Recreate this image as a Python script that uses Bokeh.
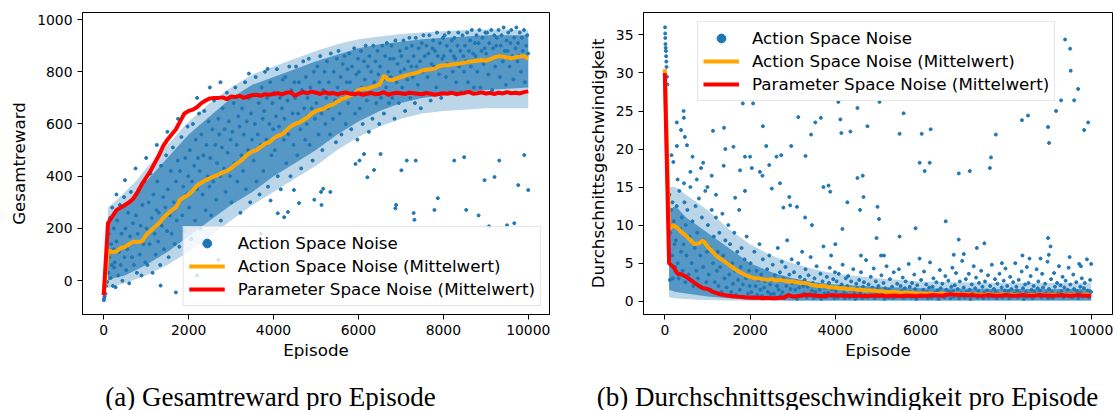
from bokeh.plotting import figure
from bokeh.layouts import column, row
from bokeh.models import Range1d, FixedTicker, Legend, LegendItem, Label, ColumnDataSource
from bokeh.embed import file_html
from bokeh.resources import INLINE

# ---------------- data ----------------
x_ticks = [0, 2000, 4000, 6000, 8000, 10000]
reward_ticks = [0, 200, 400, 600, 800, 1000]
speed_ticks = [0, 5, 10, 15, 20, 25, 30, 35]

mean_ep = [0, 100, 200, 300, 400, 500, 600, 700, 800, 900, 1000,
           1100, 1200, 1300, 1400, 1500, 1600, 1700, 1800, 1900, 2000,
           2100, 2200, 2300, 2400, 2500, 2600, 2700, 2800, 2900, 3000,
           3100, 3200, 3300, 3400, 3500, 3600, 3700, 3800, 3900, 4000,
           4100, 4200, 4300, 4400, 4500, 4600, 4700, 4800, 4900, 5000,
           5100, 5200, 5300, 5400, 5500, 5600, 5700, 5800, 5900, 6000,
           6100, 6200, 6300, 6400, 6500, 6600, 6700, 6800, 6900, 7000,
           7100, 7200, 7300, 7400, 7500, 7600, 7700, 7800, 7900, 8000,
           8100, 8200, 8300, 8400, 8500, 8600, 8700, 8800, 8900, 9000,
           9100, 9200, 9300, 9400, 9500, 9600, 9700, 9800, 9900, 10000]

reward_action_mean = [-55, 115, 110, 112, 125, 130, 140, 150, 148, 150, 175,
                      190, 205, 220, 240, 255, 270, 280, 310, 320, 330,
                      345, 365, 375, 385, 392, 400, 405, 415, 420, 430,
                      445, 455, 470, 485, 495, 500, 512, 525, 530, 545,
                      555, 560, 575, 590, 600, 605, 615, 625, 640, 650,
                      655, 660, 670, 675, 685, 695, 700, 710, 715, 730,
                      735, 735, 740, 745, 752, 785, 770, 768, 775, 780,
                      785, 790, 793, 798, 805, 808, 810, 812, 822, 825,
                      825, 828, 830, 832, 835, 838, 840, 842, 845, 842,
                      848, 855, 860, 858, 855, 852, 856, 858, 860, 850]

reward_param_mean = [-55, 220, 245, 270, 280, 290, 300, 315, 340, 370, 395,
                     420, 450, 480, 515, 540, 560, 580, 610, 640, 650,
                     655, 665, 680, 690, 698, 700, 700, 702, 695, 705,
                     703, 708, 700, 706, 710, 712, 708, 714, 712, 715,
                     718, 713, 720, 722, 708, 716, 722, 718, 724, 720,
                     715, 722, 716, 719, 713, 718, 721, 716, 714, 718,
                     712, 716, 719, 714, 716, 722, 712, 717, 720, 718,
                     715, 720, 718, 716, 714, 719, 716, 712, 715, 718,
                     716, 720, 714, 717, 719, 723, 716, 718, 721, 717,
                     719, 715, 720, 717, 722, 718, 720, 717, 722, 725]

speed_action_mean = [30.5, 9.5, 10.0, 9.6, 9.0, 8.6, 8.0, 7.5, 7.6, 8.0, 7.2,
                     6.6, 6.0, 5.6, 5.2, 4.8, 4.4, 4.0, 3.7, 3.4, 3.2,
                     3.0, 3.0, 2.9, 2.8, 2.9, 2.7, 2.8, 2.7, 2.6, 2.6,
                     2.5, 2.4, 2.4, 2.2, 2.1, 2.0, 2.0, 1.9, 1.8, 1.8,
                     1.7, 1.7, 1.6, 1.6, 1.5, 1.5, 1.4, 1.4, 1.4, 1.3,
                     1.3, 1.2, 1.2, 1.2, 1.1, 1.1, 1.1, 1.1, 1.0, 1.0,
                     1.0, 1.0, 0.95, 0.95, 1.0, 0.95, 0.9, 0.95, 0.9, 0.9,
                     0.9, 0.85, 0.9, 0.85, 0.85, 0.9, 0.85, 0.85, 0.9, 0.85,
                     0.85, 0.8, 0.85, 0.85, 0.8, 0.85, 0.8, 0.85, 0.8, 0.85,
                     0.85, 0.8, 0.85, 0.8, 0.85, 0.85, 0.8, 0.85, 0.85, 0.8]

speed_param_mean = [30.0, 5.0, 4.5, 3.6, 3.5, 3.2, 2.8, 2.4, 2.0, 1.7, 1.6,
                    1.3, 1.1, 0.9, 0.8, 0.7, 0.65, 0.6, 0.55, 0.5, 0.5,
                    0.45, 0.45, 0.4, 0.45, 0.4, 0.4, 0.45, 0.5, 0.8, 0.6,
                    0.65, 0.7, 0.85, 0.8, 0.75, 0.7, 0.65, 0.7, 0.8, 0.75,
                    0.75, 0.7, 0.7, 0.75, 0.7, 0.75, 0.65, 0.7, 0.75, 0.7,
                    0.75, 0.65, 0.7, 0.75, 0.65, 0.7, 0.75, 0.7, 0.65, 0.75,
                    0.7, 0.75, 0.8, 0.75, 0.7, 0.85, 0.9, 0.85, 0.8, 0.85,
                    0.75, 0.8, 0.75, 0.7, 0.75, 0.8, 0.75, 0.7, 0.75, 0.8,
                    0.75, 0.7, 0.75, 0.8, 0.75, 0.7, 0.75, 0.8, 0.75, 0.75,
                    0.7, 0.75, 0.8, 0.75, 0.7, 0.75, 0.8, 0.75, 0.7, 0.75]

# extent of the reward point cloud: outer (sparse fringe) and inner (dense core)
reward_cloud_ep = [100, 250, 500, 750, 1000, 1500, 2000, 2500, 3000, 3500, 4000, 4500,
                   5000, 5500, 6000, 6500, 7000, 7500, 8000, 8500, 9000, 9500, 10000]
reward_outer_low = [-30, -20, -10, 5, 20, 60, 110, 170, 230, 290, 340, 390,
                    440, 500, 550, 590, 620, 640, 650, 655, 660, 660, 660]
reward_outer_high = [280, 300, 340, 380, 430, 520, 610, 680, 740, 790, 820, 850,
                     880, 905, 925, 935, 945, 950, 955, 960, 962, 962, 960]
reward_inner_low = [0, 10, 20, 40, 60, 110, 170, 230, 290, 340, 400, 450,
                    500, 560, 610, 650, 680, 700, 710, 720, 730, 735, 740]
reward_inner_high = [240, 260, 290, 330, 380, 470, 560, 630, 700, 750, 780, 810,
                     840, 865, 890, 905, 915, 925, 930, 935, 940, 940, 940]

speed_cloud_ep = [100, 250, 500, 750, 1000, 1500, 2000, 2500, 3000, 3500, 4000,
                  5000, 6000, 8000, 10000]
speed_outer_low = [0.5, 0.4, 0.3, 0.2, 0.15, 0.1, 0.05, 0.05, 0.05, 0.05, 0.05,
                   0.05, 0.05, 0.05, 0.05]
speed_outer_high = [15, 15, 14, 13, 12, 9.5, 7.5, 6, 5, 4.2, 3.6,
                    3.0, 2.6, 2.4, 2.4]
speed_inner_low = [1.5, 1.2, 1.0, 0.8, 0.6, 0.4, 0.2, 0.15, 0.1, 0.1, 0.1,
                   0.1, 0.1, 0.1, 0.1]
speed_inner_high = [12, 12.5, 11, 10, 9, 7, 5, 3.8, 3, 2.5, 2.2,
                    1.9, 1.7, 1.6, 1.6]

# individual points (episode, value)
reward_points = [
    (3, -75), (10, -68), (20, -60), (40, -50), (60, -20), (80, -5), (110, 30), (120, 180), (130, 90),
    (150, 240), (160, 10), (175, 140), (190, 60), (200, 280), (215, -20), (230, 120), (240, 200), (245, 50),
    (260, 70), (280, -25), (300, 150), (320, 230), (340, 20), (360, 110), (380, 290), (400, 60), (420, 180),
    (440, 0), (460, 130), (480, 320), (490, 90),
    (510, 200), (530, 40), (555, 120), (575, 260), (600, -10), (620, 170), (640, 340), (665, 90), (690, 220), (710, 60), (730, 150),
    (760, 250), (780, 30), (800, 180), (825, 350), (850, 100), (870, 210), (890, 20), (910, 290), (935, 140), (960, 380), (980, 70),
    (1010, 200), (1030, 60), (1060, 300), (1080, 140), (1100, 410), (1130, 240), (1150, 30), (1170, 330), (1200, 180), (1225, 100), (1245, 270),
    (1260, 380), (1280, 150), (1300, 260), (1330, 60), (1350, 440), (1370, 210), (1400, 320), (1420, 120), (1450, 280), (1470, 480), (1490, 190),
    (1510, 350), (1530, 90), (1560, 250), (1580, 420), (1600, 180), (1630, 510), (1650, 300), (1670, 140), (1700, 380), (1720, 230), (1745, 460),
    (1760, 300), (1780, 130), (1800, 420), (1830, 550), (1850, 250), (1870, 360), (1900, 190), (1920, 470), (1950, 330), (1975, 590), (1990, 400),
    (2010, 280), (2030, 500), (2060, 160), (2080, 380), (2100, 600), (2130, 440), (2150, 230), (2170, 540), (2200, 350), (2220, 470), (2245, 640),
    (2260, 420), (2280, 200), (2300, 560), (2330, 330), (2350, 480), (2370, 650), (2400, 270), (2420, 520), (2450, 400), (2470, 610), (2490, 360),
    (2510, 470), (2530, 250), (2560, 580), (2580, 380), (2600, 690), (2630, 520), (2650, 310), (2670, 450), (2700, 620), (2720, 560), (2745, 400),
    (2760, 230), (2780, 510), (2800, 660), (2830, 430), (2850, 580), (2870, 340), (2900, 720), (2920, 490), (2950, 610), (2975, 400), (2990, 540),
    (3010, 300), (3030, 570), (3060, 680), (3080, 450), (3100, 740), (3130, 520), (3150, 380), (3170, 630), (3200, 590), (3220, 260), (3245, 480),
    (3260, 660), (3280, 420), (3300, 560), (3330, 760), (3350, 350), (3370, 610), (3400, 500), (3420, 700), (3450, 300), (3470, 640), (3490, 540),
    (3510, 710), (3530, 460), (3560, 600), (3580, 780), (3600, 380), (3630, 560), (3650, 680), (3670, 330), (3700, 520), (3720, 740), (3745, 620),
    (3760, 420), (3780, 650), (3800, 800), (3830, 540), (3850, 700), (3870, 360), (3900, 600), (3920, 760), (3950, 480), (3975, 680), (3990, 580),
    (4010, 720), (4030, 500), (4060, 630), (4080, 810), (4100, 400), (4130, 590), (4150, 700), (4170, 350), (4200, 660), (4220, 770), (4245, 540),
    (4260, 620), (4280, 780), (4300, 450), (4330, 690), (4350, 560), (4370, 820), (4400, 400), (4420, 730), (4450, 640), (4470, 520), (4490, 760),
    (4510, 700), (4530, 820), (4560, 480), (4580, 640), (4600, 760), (4630, 580), (4650, 430), (4670, 730), (4700, 840), (4720, 660), (4745, 540),
    (4760, 780), (4780, 600), (4800, 700), (4830, 850), (4850, 520), (4870, 740), (4900, 660), (4920, 460), (4950, 800), (4975, 620), (4990, 720),
    (5010, 680), (5030, 820), (5060, 560), (5080, 760), (5100, 860), (5130, 640), (5150, 500), (5170, 730), (5200, 800), (5220, 600), (5245, 700),
    (5260, 840), (5280, 660), (5300, 760), (5330, 560), (5350, 870), (5370, 720), (5400, 620), (5420, 800), (5450, 690), (5470, 530), (5490, 850),
    (5510, 740), (5530, 880), (5560, 640), (5580, 780), (5600, 560), (5630, 830), (5650, 700), (5670, 860), (5700, 600), (5720, 760), (5745, 810),
    (5760, 680), (5780, 870), (5800, 760), (5830, 580), (5850, 820), (5870, 720), (5900, 890), (5920, 640), (5950, 790), (5975, 540), (5990, 850),
    (6010, 800), (6030, 660), (6060, 880), (6080, 740), (6100, 600), (6130, 840), (6150, 770), (6170, 900), (6200, 690), (6220, 820), (6245, 570),
    (6260, 860), (6280, 720), (6300, 800), (6330, 620), (6350, 900), (6370, 760), (6400, 840), (6420, 680), (6450, 880), (6470, 790), (6490, 600),
    (6510, 820), (6530, 700), (6560, 900), (6580, 770), (6600, 640), (6630, 860), (6650, 740), (6670, 910), (6700, 800), (6720, 680), (6745, 850),
    (6760, 780), (6780, 900), (6800, 700), (6830, 850), (6850, 620), (6870, 920), (6900, 760), (6920, 830), (6950, 680), (6975, 880), (6990, 800),
    (7010, 860), (7030, 740), (7060, 920), (7080, 810), (7100, 650), (7130, 890), (7150, 770), (7170, 840), (7200, 930), (7220, 700), (7245, 820),
    (7260, 900), (7280, 780), (7300, 860), (7330, 680), (7350, 930), (7370, 820), (7400, 750), (7420, 890), (7450, 840), (7470, 660), (7490, 910),
    (7510, 800), (7530, 940), (7560, 860), (7580, 720), (7600, 900), (7630, 780), (7650, 870), (7670, 940), (7700, 690), (7720, 830), (7745, 890),
    (7760, 920), (7780, 820), (7800, 880), (7830, 740), (7850, 950), (7870, 860), (7900, 790), (7920, 910), (7950, 700), (7975, 850), (7990, 930),
    (8010, 860), (8030, 940), (8060, 780), (8080, 900), (8100, 830), (8130, 950), (8150, 720), (8170, 880), (8200, 920), (8220, 800), (8245, 860),
    (8260, 930), (8280, 850), (8300, 760), (8330, 900), (8350, 950), (8370, 820), (8400, 880), (8420, 720), (8450, 940), (8470, 860), (8490, 800),
    (8510, 900), (8530, 840), (8560, 950), (8580, 760), (8600, 880), (8630, 920), (8650, 820), (8670, 960), (8700, 870), (8720, 740), (8745, 910),
    (8760, 860), (8780, 940), (8800, 800), (8830, 910), (8850, 960), (8870, 740), (8900, 880), (8920, 930), (8950, 830), (8975, 890), (8990, 950),
    (9010, 870), (9030, 950), (9060, 790), (9080, 910), (9100, 850), (9130, 960), (9150, 730), (9170, 890), (9200, 940), (9220, 820), (9245, 900),
    (9260, 930), (9280, 860), (9300, 960), (9330, 780), (9350, 900), (9370, 940), (9400, 840), (9420, 970), (9450, 880), (9470, 750), (9490, 920),
    (9510, 880), (9530, 950), (9560, 820), (9580, 910), (9600, 960), (9630, 860), (9650, 770), (9670, 930), (9700, 890), (9720, 970), (9745, 840),
    (9760, 910), (9780, 860), (9800, 950), (9830, 800), (9850, 930), (9870, 880), (9900, 960), (9920, 760), (9950, 900), (9975, 940), (9995, 870),
]

reward_outliers = [
    (6887, 290), (6870, 277), (7319, 233), (7870, 316), (8538, 271), (8830, 250), (9075, 208), (8970, 385),
    (9205, 397), (9764, 366), (10000, 347), (9906, 481), (9316, 460), (8255, 460), (8490, 473), (7138, 460),
    (7350, 460), (7012, 423), (6368, 424), (6210, 396), (5338, 340), (5119, 340), (5170, 352), (4960, 310),
    (4600, 297), (4250, 243), (5130, 290), (6024, 460), (5930, 447), (6130, 485), (6520, 485), (7300, 259),
    (7790, 271), (9670, 220), (9500, 212), (4340, 263), (4100, 258), (4480, 347), (3930, 307),
    (1340, -19), (1700, -45), (2200, 20), (2700, 80), (3200, 130), (3700, 180),
    (3420, 793), (3860, 811), (2750, 760), (2500, 740), (2200, 700), (1750, 620), (1500, 570),
    (1250, 520), (1000, 470), (750, 430), (500, 385), (300, 330),
]

speed_points = [
    (5, 36), (8, 35.2), (12, 34.6), (15, 33.8), (20, 33.3), (25, 32.9), (30, 32.2), (35, 31.5), (40, 30.8),
    (50, 29.5), (60, 28.5), (110, 14), (130, 9), (150, 12), (170, 6), (190, 3), (210, 10.5), (230, 7.5),
    (245, 4.5), (120, 2.8), (180, 13),
    (260, 8), (280, 12.5), (300, 5), (320, 3), (340, 14.5), (360, 9.5), (380, 6.5), (400, 11), (420, 4), (440, 7.5), (460, 13), (480, 2.5), (490, 10),
    (510, 6), (530, 12), (560, 3.5), (580, 8.5), (600, 15), (630, 5), (650, 10.5), (670, 2), (700, 7), (720, 12.5), (740, 4),
    (760, 9), (780, 3), (800, 13.5), (830, 6), (850, 1.8), (870, 11), (900, 4.5), (920, 8), (950, 14.5), (975, 2.5), (990, 6.5),
    (1010, 10), (1030, 3.5), (1060, 7), (1080, 1.5), (1100, 12), (1130, 5), (1150, 8.5), (1170, 2.5), (1200, 11), (1225, 4), (1245, 6.5),
    (1260, 2), (1280, 9), (1300, 4.5), (1330, 1.2), (1350, 11.5), (1370, 6), (1400, 3), (1420, 8), (1450, 1.8), (1470, 5), (1490, 10),
    (1510, 3.5), (1530, 7.5), (1560, 1.2), (1580, 5), (1600, 2.3), (1630, 9), (1650, 4), (1670, 0.8), (1700, 6.5), (1720, 2.8), (1745, 12),
    (1760, 1.5), (1780, 4.5), (1800, 7), (1830, 2.2), (1850, 0.6), (1870, 5.5), (1900, 3), (1920, 8.5), (1950, 1), (1975, 4), (1990, 2),
    (2010, 5), (2030, 1.2), (2060, 3), (2080, 0.5), (2100, 6.5), (2130, 2), (2150, 4), (2170, 0.8), (2200, 2.8), (2220, 7.5), (2245, 1.5),
    (2260, 3.5), (2280, 0.7), (2300, 5.5), (2330, 1.8), (2350, 2.6), (2370, 0.4), (2400, 4.2), (2420, 1.2), (2450, 6), (2470, 2.2), (2490, 0.9),
    (2510, 2.8), (2530, 4.8), (2560, 1), (2580, 3.4), (2600, 0.5), (2630, 2), (2650, 7), (2670, 1.5), (2700, 3.8), (2720, 0.7), (2745, 5.2),
    (2760, 1.2), (2780, 3), (2800, 0.4), (2830, 4.5), (2850, 2), (2870, 8), (2900, 0.8), (2920, 3.5), (2950, 1.6), (2975, 5.5), (2990, 2.4),
    (3010, 0.6), (3030, 3.8), (3060, 1.5), (3080, 2.6), (3100, 0.3), (3130, 5), (3150, 1.8), (3170, 3.2), (3200, 0.8), (3220, 6.5), (3245, 2),
    (3260, 1), (3280, 2.8), (3300, 4.2), (3330, 0.5), (3350, 1.9), (3370, 3.4), (3400, 0.9), (3420, 5.8), (3450, 1.4), (3470, 2.4), (3490, 0.4),
    (3510, 3), (3530, 1.2), (3560, 4.6), (3580, 0.6), (3600, 2.1), (3630, 1.5), (3650, 3.6), (3670, 0.3), (3700, 2.6), (3720, 7.2), (3745, 1),
    (3760, 1.8), (3780, 0.5), (3800, 3.2), (3830, 1.1), (3850, 2.4), (3870, 4.4), (3900, 0.7), (3920, 1.6), (3950, 2.9), (3975, 0.4), (3990, 3.8),
    (4010, 1.3), (4030, 2.6), (4060, 0.5), (4080, 3.6), (4100, 1.9), (4130, 0.8), (4150, 2.2), (4170, 4.8), (4200, 1.1), (4220, 0.4), (4245, 3),
    (4260, 0.9), (4280, 2), (4300, 3.3), (4330, 0.5), (4350, 1.5), (4370, 2.6), (4400, 0.7), (4420, 4.2), (4450, 1.2), (4470, 0.3), (4490, 2.3),
    (4510, 1.7), (4530, 0.6), (4560, 2.8), (4580, 1.1), (4600, 3.8), (4630, 0.4), (4650, 1.9), (4670, 2.5), (4700, 0.8), (4720, 5.4), (4745, 1.4),
    (4760, 0.5), (4780, 2.2), (4800, 1.3), (4830, 3.2), (4850, 0.7), (4870, 1.8), (4900, 4.3), (4920, 0.4), (4950, 2.6), (4975, 1), (4990, 1.6),
    (5010, 2), (5030, 0.6), (5060, 1.4), (5080, 3.4), (5100, 0.9), (5130, 2.4), (5150, 0.3), (5170, 1.7), (5200, 4.6), (5220, 1.1), (5245, 0.5),
    (5260, 1.5), (5280, 2.9), (5300, 0.7), (5330, 1.9), (5350, 0.4), (5370, 3.8), (5400, 1.2), (5420, 0.6), (5450, 2.3), (5470, 1), (5490, 4.2),
    (5510, 0.8), (5530, 2), (5560, 1.3), (5580, 3.1), (5600, 0.4), (5630, 1.7), (5650, 2.6), (5670, 0.6), (5700, 1.1), (5720, 4.9), (5745, 1.9),
    (5760, 1.2), (5780, 0.5), (5800, 2.4), (5830, 0.9), (5850, 3.5), (5870, 1.6), (5900, 0.3), (5920, 2.1), (5950, 1), (5975, 5.6), (5990, 0.7),
    (6010, 2.8), (6030, 0.6), (6060, 1.5), (6080, 3.9), (6100, 0.9), (6130, 2.2), (6150, 1.2), (6170, 0.4), (6200, 1.8), (6220, 5.1), (6245, 1),
    (6260, 0.5), (6280, 1.9), (6300, 3), (6330, 1.1), (6350, 0.7), (6370, 2.5), (6400, 1.4), (6420, 0.3), (6450, 4.1), (6470, 1.7), (6490, 0.8),
    (6510, 2.3), (6530, 1), (6560, 0.5), (6580, 3.3), (6600, 1.5), (6630, 0.8), (6650, 2.7), (6670, 1.2), (6700, 0.4), (6720, 1.9), (6745, 4.4),
    (6760, 1.3), (6780, 0.6), (6800, 2.1), (6830, 3.7), (6850, 0.9), (6870, 1.6), (6900, 0.4), (6920, 2.6), (6950, 1.1), (6975, 5.3), (6990, 0.7),
    (7010, 1.8), (7030, 0.5), (7060, 2.9), (7080, 1.2), (7100, 0.8), (7130, 3.6), (7150, 1.5), (7170, 0.3), (7200, 2.2), (7220, 1), (7245, 4.6),
    (7260, 0.9), (7280, 1.7), (7300, 3.1), (7330, 0.5), (7350, 1.3), (7370, 2.4), (7400, 0.7), (7420, 4), (7450, 1.9), (7470, 0.4), (7490, 1.1),
    (7510, 2.6), (7530, 0.8), (7560, 1.4), (7580, 3.4), (7600, 0.5), (7630, 2), (7650, 1.1), (7670, 4.8), (7700, 0.6), (7720, 1.6), (7745, 2.9),
    (7760, 1.2), (7780, 0.4), (7800, 2.3), (7830, 1), (7850, 3.6), (7870, 0.7), (7900, 1.8), (7920, 0.5), (7950, 2.7), (7975, 1.4), (7990, 4.3),
    (8010, 0.8), (8030, 2), (8060, 1.3), (8080, 0.4), (8100, 3.2), (8130, 1.6), (8150, 0.6), (8170, 2.5), (8200, 1), (8220, 5), (8245, 1.9),
    (8260, 1.4), (8280, 0.5), (8300, 2.8), (8330, 1.1), (8350, 0.7), (8370, 3.9), (8400, 1.7), (8420, 0.3), (8450, 2.2), (8470, 1.2), (8490, 4.5),
    (8510, 0.6), (8530, 2.4), (8560, 1), (8580, 3.3), (8600, 1.5), (8630, 0.4), (8650, 2), (8670, 1.2), (8700, 0.8), (8720, 4.2), (8745, 1.7),
    (8760, 2.6), (8780, 0.9), (8800, 1.4), (8830, 0.5), (8850, 3.6), (8870, 1.8), (8900, 0.7), (8920, 2.3), (8950, 1.1), (8975, 5.2), (8990, 0.4),
    (9010, 1.6), (9030, 0.6), (9060, 2.9), (9080, 1.2), (9100, 0.4), (9130, 3.7), (9150, 1.9), (9170, 0.8), (9200, 2.4), (9220, 1), (9245, 4.6),
    (9260, 0.7), (9280, 2.1), (9300, 1.3), (9330, 3.2), (9350, 0.5), (9370, 1.8), (9400, 2.7), (9420, 0.9), (9450, 1.5), (9470, 4.4), (9490, 0.6),
    (9510, 2.2), (9530, 1), (9560, 0.5), (9580, 3.5), (9600, 1.6), (9630, 0.8), (9650, 2.5), (9670, 1.3), (9700, 0.4), (9720, 4.9), (9745, 1.9),
    (9760, 1.1), (9780, 3), (9800, 0.6), (9830, 1.7), (9850, 2.4), (9870, 0.9), (9900, 5.5), (9920, 1.4), (9950, 0.5), (9975, 2.8), (9995, 1.2),
]

speed_outliers = [
    (9388, 34.4), (9506, 33.2), (9520, 30.3), (9694, 27.9), (9600, 26.4), (9294, 26.4), (9176, 25), (8518, 24.4),
    (8376, 23.8), (9929, 23.5), (9835, 22.5), (8988, 22.9), (9012, 20.8), (7765, 21.9), (7624, 17.5), (7650, 18.9),
    (6894, 16.8), (7153, 17.1), (5976, 18.2), (6212, 18.2), (6094, 17.1), (6024, 22), (6235, 22.6), (5506, 22),
    (5600, 24.7), (5035, 26.2), (4518, 25.4), (4753, 23), (4353, 22.3), (4118, 23.9), (4140, 22.1), (4518, 16.2),
    (4643, 16.5), (4282, 13), (4580, 12), (4660, 13.7), (4988, 12.4), (5024, 10.8), (4165, 9.5), (4965, 8.3),
    (5506, 8.5), (5882, 9.6), (6588, 10.5), (6894, 8.1), (7318, 7), (7494, 7.6), (6776, 6.1), (7012, 6.2),
    (7906, 5), (8388, 6), (8553, 5.6), (8812, 5.6), (8988, 8.3), (9047, 7.2), (9006, 6.1), (9494, 5.8),
    (10000, 4.9), (9759, 4.6), (3900, 6), (4000, 7.5), (4600, 6), (5070, 6), (5140, 6),
    (447, 24.1), (440, 25), (282, 23.5), (380, 22.5), (470, 21.6), (282, 20.4), (157, 19.2), (200, 18.3),
    (900, 18.2), (1130, 22.4), (1390, 22.8), (1420, 20), (1765, 17.2), (1880, 19), (2000, 19), (2070, 26),
    (1830, 26), (2300, 23), (2380, 20.4), (2620, 19), (2730, 19.2), (2965, 20.4), (3130, 24.2), (3300, 19.1),
    (3430, 21.9), (3530, 23.5), (3660, 24.1), (3720, 15), (3840, 15.2), (3880, 14.4), (4070, 26.2), (2920, 13.7),
    (2940, 12.6), (3100, 12.4), (2780, 12.3), (2510, 14.8), (2700, 15.5), (3290, 11), (3450, 10), (2040, 17.5),
    (2230, 17), (1610, 20.3), (1380, 17.8), (1650, 13.6), (1880, 14.5), (2290, 16.5), (2450, 17.9),
    (300, 16), (450, 15.5), (600, 17), (750, 16), (1000, 15), (1200, 14), (1100, 16.5), (850, 17.5), (650, 19), (520, 20.5),
]

label_scatter = "Action Space Noise"
label_action_mean = "Action Space Noise (Mittelwert)"
label_param_mean = "Parameter Space Noise (Mittelwert)"
caption_a = "(a) Gesamtreward pro Episode"
caption_b = "(b) Durchschnittsgeschwindigkeit pro Episode"

BLUE = "#1f77b4"
ORANGE = "#ffa500"
RED = "#ff0000"
SANS = "DejaVu Sans"


def style_axes(p, ylabel, yticks):
    p.xaxis.axis_label = "Episode"
    p.yaxis.axis_label = ylabel
    p.xaxis.ticker = FixedTicker(ticks=x_ticks)
    p.yaxis.ticker = FixedTicker(ticks=yticks)
    for ax in p.axis:
        ax.axis_label_text_font = SANS
        ax.axis_label_text_font_size = "16.7px"
        ax.axis_label_text_font_style = "normal"
        ax.axis_label_text_color = "black"
        ax.major_label_text_font = SANS
        ax.major_label_text_font_size = "13.9px"
        ax.major_label_text_color = "black"
        ax.major_tick_out = 5
        ax.major_tick_in = 0
        ax.major_label_standoff = 5
        ax.minor_tick_line_color = None
        ax.axis_line_color = "black"
        ax.major_tick_line_color = "black"
    p.xaxis.axis_label_standoff = 2
    p.yaxis.axis_label_standoff = 5
    p.xgrid.visible = False
    p.ygrid.visible = False
    p.outline_line_color = "black"
    p.outline_line_alpha = 1.0
    p.outline_line_width = 1


def make_panel(width, left, right, yrange, ylabel, yticks, cloud, pts, outs, act_mean, par_mean,
               legend_loc):
    p = figure(width=width, height=362, x_range=Range1d(-500, 10500), y_range=Range1d(*yrange),
               output_backend="svg", toolbar_location=None,
               min_border_left=left, min_border_right=right, min_border_top=12, min_border_bottom=47)
    p.background_fill_color = "white"
    p.border_fill_color = "white"
    c_ep, o_low, o_high, i_low, i_high = cloud
    p.varea(x=c_ep, y1=o_low, y2=o_high, fill_color=BLUE, fill_alpha=0.3)
    p.varea(x=c_ep, y1=i_low, y2=i_high, fill_color=BLUE, fill_alpha=0.65)
    all_pts = pts + outs
    src = ColumnDataSource(data=dict(ep=[q[0] for q in all_pts], val=[q[1] for q in all_pts]))
    r_sc = p.scatter(x="ep", y="val", source=src, size=3, color=BLUE)
    r_a = p.line(mean_ep, act_mean, line_color=ORANGE, line_width=4)
    r_p = p.line(mean_ep, par_mean, line_color=RED, line_width=4)
    style_axes(p, ylabel, yticks)
    leg = Legend(items=[LegendItem(label=label_scatter, renderers=[r_sc]),
                        LegendItem(label=label_action_mean, renderers=[r_a]),
                        LegendItem(label=label_param_mean, renderers=[r_p])],
                 location=legend_loc)
    leg.label_text_font = SANS
    leg.label_text_font_size = "16.7px"
    leg.label_text_color = "black"
    leg.glyph_width = 36
    leg.glyph_height = 22
    leg.label_height = 22
    leg.label_standoff = 13
    leg.padding = 5
    leg.spacing = 1
    leg.margin = 8
    leg.border_line_color = "#cccccc"
    leg.border_line_width = 1
    leg.background_fill_color = "white"
    leg.background_fill_alpha = 0.8
    p.add_layout(leg)
    return p


pa = make_panel(560, 82, 11, (-129.6, 1027), "Gesamtreward", reward_ticks,
                (reward_cloud_ep, reward_outer_low, reward_outer_high, reward_inner_low, reward_inner_high),
                reward_points, reward_outliers, reward_action_mean, reward_param_mean,
                "bottom_right")
pb = make_panel(557, 83, 5, (-1.75, 37.95), "Durchschnittsgeschwindigkeit", speed_ticks,
                (speed_cloud_ep, speed_outer_low, speed_outer_high, speed_inner_low, speed_inner_high),
                speed_points, speed_outliers, speed_action_mean, speed_param_mean,
                (54, 213))

cap = figure(width=1117, height=48, x_range=Range1d(0, 1117), y_range=Range1d(0, 48),
             x_axis_type=None, y_axis_type=None, output_backend="svg", toolbar_location=None,
             min_border=0, min_border_left=0, min_border_right=0, min_border_top=0, min_border_bottom=0)
cap.outline_line_color = None
cap.xgrid.visible = False
cap.ygrid.visible = False
for cx, txt in ((270, caption_a), (847, caption_b)):
    cap.add_layout(Label(x=cx, y=14, text=txt, text_align="center", text_baseline="alphabetic",
                         text_font="Liberation Serif", text_font_size="27px", text_color="black"))

layout = column(row(pa, pb, spacing=0), cap, spacing=0)
open("out.html", "w").write(file_html(layout, INLINE))
